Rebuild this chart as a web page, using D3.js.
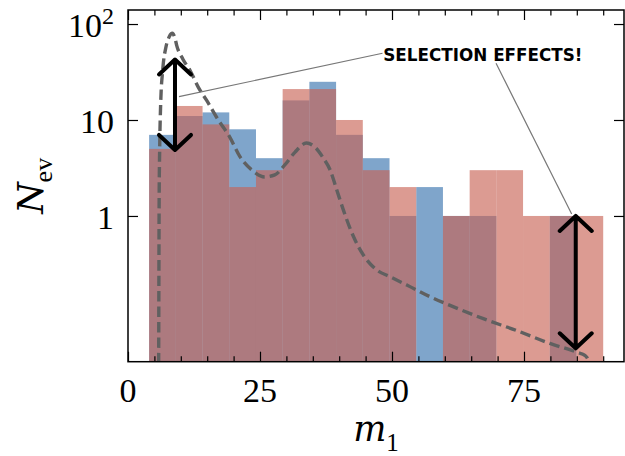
<!DOCTYPE html>
<html>
<head>
<meta charset="utf-8">
<script src="https://cdn.jsdelivr.net/npm/d3@7"></script>
<style>
  html, body { margin: 0; padding: 0; background: #fff; }
  svg { display: block; }
</style>
</head>
<body>
<svg id="chart" width="625" height="456"></svg>
<script>
// ---------------- data ----------------
const binEdges = [4, 9.06, 14.12, 19.18, 24.24, 29.29, 34.35, 39.41, 44.47, 49.53,
                  54.59, 59.65, 64.71, 69.76, 74.82, 79.88, 84.94, 90];
const blueCounts = [7, 11, 12, 8, 4, 16, 25, 7, 4, 1, 2, 1, 1, 0, 0, 1, 0];
const redCounts  = [5, 14, 9, 2, 3, 21, 21, 10, 3, 2, 0, 1, 3, 3, 1, 1, 1];

const curveM = [5.8, 5.85, 5.9, 6.0, 6.19, 6.57, 7.2, 7.83, 8.4, 8.9, 9.22, 10.4, 11.74, 13.3,
                14.9, 17.1, 19.3, 21.2, 23.5, 25.9, 27.8, 29.7, 31.6, 33.8, 35.6, 37.0, 38.3,
                39.5, 40.8, 42.7, 44.6, 47.1, 49.6, 52.8, 57.2, 61, 67.3, 73.6, 79.9, 85, 86.6, 87.2, 87.6];
const curveV = [0.02, 0.2, 1.5, 5, 14.9, 33, 58, 74, 80, 71, 60, 43, 33, 22,
                16, 10, 6.6, 4.15, 3.0, 2.55, 2.68, 3.4, 4.6, 5.75, 5.1, 4.0, 3.0,
                1.9, 1.15, 0.61, 0.39, 0.274, 0.233, 0.191, 0.144, 0.117, 0.085, 0.064, 0.047, 0.038, 0.035, 0.031, 0.022];

// double-headed arrows: [m, vTop, vBottom]
const arrows = [[8.9, 42.7, 4.87], [84.8, 1.0, 0.0418]];
// annotation
const annText = "SELECTION EFFECTS!";
const annPos = [48.35, 41.5];           // text start (m, N)
const annLines = [[[48.2, 49.6], [9.66, 17.5]], [[69.7, 39], [84.03, 1.05]]];

const xMajor = [0, 25, 50, 75];
const xMinor = [5, 10, 15, 20, 30, 35, 40, 45, 55, 60, 65, 70, 80, 85, 90];
const xLabels = ["0", "25", "50", "75"];
const yMajor = [1, 10, 100];
const yLabels = [["1", null], ["10", null], ["10", "2"]];

// ---------------- layout ----------------
const L = 128, R = 624, T = 10, B = 361.7;
const svg = d3.select("#chart");
const x = d3.scaleLinear().domain([0, 93.94]).range([L, R]);
const y = d3.scaleLog().domain([0.0303, 140]).range([B, T]);

const blueCol = "#3570ac", redCol = "#c76052", alpha = 0.63;

svg.append("defs").append("clipPath").attr("id", "clip")
  .append("rect").attr("x", L).attr("y", T).attr("width", R - L).attr("height", B - T);
const plot = svg.append("g").attr("clip-path", "url(#clip)");

function bars(counts, col) {
  const d = counts.map((c, i) => ({x0: binEdges[i], x1: binEdges[i + 1], c})).filter(d => d.c > 0);
  plot.append("g").selectAll("rect").data(d).join("rect")
    .attr("x", d => x(d.x0)).attr("width", d => x(d.x1) - x(d.x0))
    .attr("y", d => y(d.c)).attr("height", d => B - y(d.c))
    .attr("fill", col).attr("fill-opacity", alpha);
}
bars(blueCounts, blueCol);
bars(redCounts, redCol);

// dashed curve
const line = d3.line().x(d => x(d[0])).y(d => y(d[1])).curve(d3.curveMonotoneX);
plot.append("path").datum(curveM.map((m, i) => [m, curveV[i]]))
  .attr("d", line).attr("fill", "none").attr("stroke", "#606060")
  .attr("stroke-width", 3.4).attr("stroke-dasharray", "10.5,5");

// annotation lines
annLines.forEach(([a, b]) => {
  svg.append("line").attr("x1", x(a[0])).attr("y1", y(a[1])).attr("x2", x(b[0])).attr("y2", y(b[1]))
    .attr("stroke", "#777").attr("stroke-width", 1.2);
});
svg.append("text").attr("x", x(annPos[0])).attr("y", y(annPos[1]))
  .attr("font-family", "DejaVu Sans").attr("font-weight", "bold").attr("font-size", 16.8)
  .attr("fill", "#000").text(annText);

// arrows
arrows.forEach(([m, v0, v1]) => {
  const ax = x(m), y0 = y(v0), y1 = y(v1), hw = 16, hl = 15;
  const p = `M${ax},${y0}L${ax},${y1}` +
            `M${ax - hw},${y0 + hl}L${ax},${y0}L${ax + hw},${y0 + hl}` +
            `M${ax - hw},${y1 - hl}L${ax},${y1}L${ax + hw},${y1 - hl}`;
  svg.append("path").attr("d", p).attr("fill", "none").attr("stroke", "#000")
    .attr("stroke-width", 4).attr("stroke-linecap", "round").attr("stroke-linejoin", "round");
});

// ticks via d3 axes (inward)
function ax(gen, tx, ty) {
  const g = svg.append("g").attr("transform", `translate(${tx},${ty})`).call(gen);
  g.select(".domain").remove();
  g.selectAll("line").attr("stroke", "#000").attr("stroke-width", 1.2);
  g.selectAll("text").remove();
  return g;
}
ax(d3.axisBottom(x).tickValues(xMajor).tickSize(-10), 0, B);
ax(d3.axisBottom(x).tickValues(xMinor).tickSize(-5.5), 0, B);
ax(d3.axisTop(x).tickValues(xMajor).tickSize(-10), 0, T);
ax(d3.axisTop(x).tickValues(xMinor).tickSize(-5.5), 0, T);
ax(d3.axisLeft(y).tickValues(yMajor).tickSize(-10), L, 0);
ax(d3.axisRight(y).tickValues(yMajor).tickSize(-10), R, 0);

// spines
svg.append("rect").attr("x", L).attr("y", T).attr("width", R - L).attr("height", B - T)
  .attr("fill", "none").attr("stroke", "#000").attr("stroke-width", 1.5);

// tick labels
const serif = "'Liberation Serif', 'Times New Roman', serif";
svg.append("g").selectAll("text").data(xMajor).join("text")
  .attr("x", d => x(d)).attr("y", 401.5).attr("text-anchor", "middle")
  .attr("font-family", serif).attr("font-size", 34).text((d, i) => xLabels[i]);

yMajor.forEach((v, i) => {
  const t = svg.append("text").attr("x", 114).attr("y", y(v) + 13).attr("text-anchor", "end")
    .attr("font-family", serif).attr("font-size", 34);
  t.append("tspan").text(yLabels[i][0]);
  if (yLabels[i][1]) t.append("tspan").attr("dy", -13).attr("font-size", 24).text(yLabels[i][1]);
});

// axis labels
const xl = svg.append("text").attr("x", (L + R) / 2).attr("y", 441).attr("text-anchor", "middle");
xl.append("tspan").attr("font-family", "DejaVu Serif").attr("font-style", "italic").attr("font-size", 35).text("m");
xl.append("tspan").attr("font-family", serif).attr("font-size", 25).attr("dy", 10).text("1");

const yl = svg.append("text").attr("transform", `translate(43,${(T + B) / 2}) rotate(-90)`).attr("text-anchor", "middle");
yl.append("tspan").attr("font-family", "DejaVu Serif").attr("font-style", "italic").attr("font-size", 36).text("N");
yl.append("tspan").attr("font-family", serif).attr("font-size", 26).attr("dy", 9).text("ev");
</script>
</body>
</html>
